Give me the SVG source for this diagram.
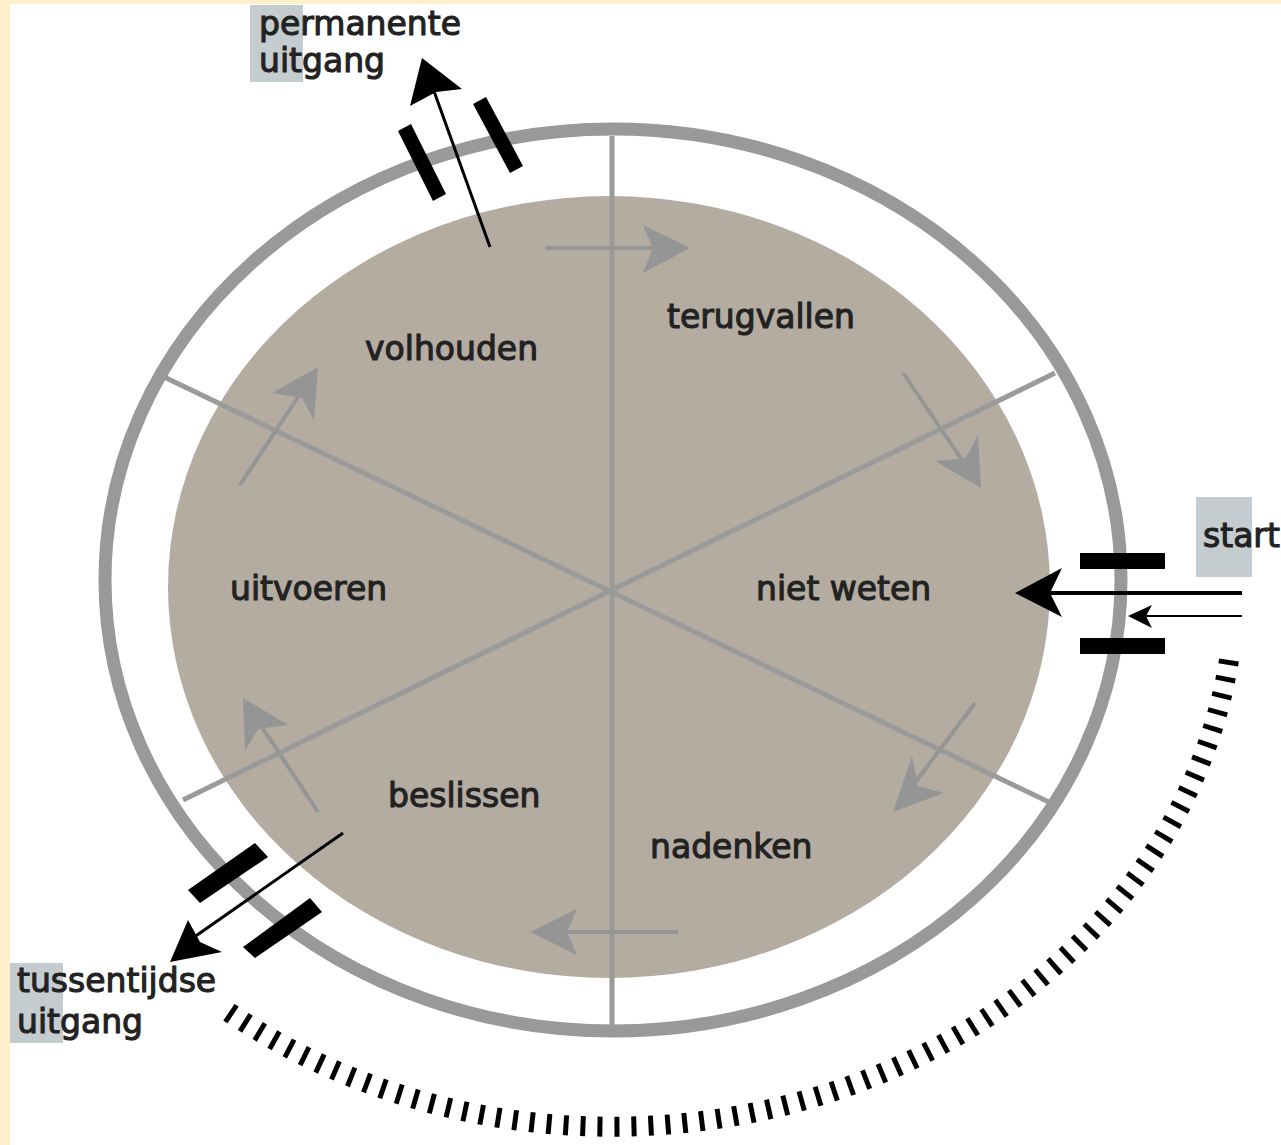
<svg xmlns="http://www.w3.org/2000/svg" width="1281" height="1145" viewBox="0 0 1281 1145">
<defs>
<style>
.lbl{font-family:"DejaVu Sans","Verdana",sans-serif;font-size:33px;fill:#222;stroke:#222;stroke-width:1.1}
.div{stroke:#9a9a9a;stroke-width:5;fill:none}
.garrow{stroke:#959595;stroke-width:4;fill:none}
.ghead{fill:#959595}
.bar{fill:#000}
.hl{fill:#c4ccd0}
</style>
</defs>
<rect x="0" y="0" width="1281" height="1145" fill="#fff0cc"/>
<rect x="10" y="4" width="1271" height="1141" fill="#ffffff"/>

<g id="cycle">
<ellipse cx="613" cy="580" rx="508" ry="451" fill="none" stroke="#999999" stroke-width="13"/>
<ellipse cx="609" cy="587" rx="441" ry="391" fill="#b4aca1"/>
</g>

<g id="connectors">
<line class="div" x1="612" y1="136" x2="612" y2="1028"/>
<line class="div" x1="160" y1="375" x2="1055" y2="805"/>
<line class="div" x1="183" y1="800" x2="1055" y2="373"/>

<line class="garrow" x1="545" y1="248" x2="655" y2="248"/>
<polygon class="ghead" points="690,248 643,225 653,248 643,273"/>

<line class="garrow" x1="903" y1="373" x2="962" y2="460"/>
<polygon class="ghead" points="981,488 978,435 966,458 935,461"/>

<line class="garrow" x1="975" y1="703" x2="914" y2="784"/>
<polygon class="ghead" points="893,812 944,793 918,786 912,756"/>

<line class="garrow" x1="678" y1="932" x2="565" y2="932"/>
<polygon class="ghead" points="530,932 577,909 567,932 577,955"/>

<line class="garrow" x1="318" y1="812" x2="262" y2="727"/>
<polygon class="ghead" points="243,698 245,751 258,729 288,725"/>

<line class="garrow" x1="240" y1="485" x2="298" y2="397"/>
<polygon class="ghead" points="318,367 314,420 302,398 272,393"/>

<line x1="490" y1="247" x2="430" y2="80" stroke="#000" stroke-width="3"/>
<polygon points="422,58 462,89 436,92 410,106" fill="#000"/>

<line x1="343" y1="833" x2="190" y2="940" stroke="#000" stroke-width="3"/>
<polygon points="170,962 188,920 200,942 222,952" fill="#000"/>

<line x1="1242" y1="593" x2="1045" y2="593" stroke="#000" stroke-width="4"/>
<polygon points="1015,593 1062,568 1050,593 1062,617" fill="#000"/>

<line x1="1242" y1="616" x2="1145" y2="616" stroke="#000" stroke-width="2"/>
<polygon points="1128,616 1152,605 1146,616 1152,628" fill="#000"/>

<path d="M1229,660 A623,542 0 0 1 220,1006" fill="none" stroke="#000" stroke-width="20" stroke-dasharray="5 12"/>
</g>

<g id="gates">
<polygon class="bar" points="398,131 411,124 446,194 433,201"/>
<polygon class="bar" points="473,104 486,97 523,166 510,173"/>
<rect class="bar" x="1080" y="553" width="85" height="16"/>
<rect class="bar" x="1080" y="638" width="85" height="16"/>
<polygon class="bar" points="188,890 255,843 268,857 200,903"/>
<polygon class="bar" points="243,947 310,898 322,912 255,958"/>
</g>

<g id="node-volhouden"><text class="lbl" x="365" y="360">volhouden</text></g>
<g id="node-terugvallen"><text class="lbl" x="667" y="328">terugvallen</text></g>
<g id="node-uitvoeren"><text class="lbl" x="230" y="600">uitvoeren</text></g>
<g id="node-nietweten"><text class="lbl" x="756" y="600">niet weten</text></g>
<g id="node-beslissen"><text class="lbl" x="388" y="807">beslissen</text></g>
<g id="node-nadenken"><text class="lbl" x="650" y="858">nadenken</text></g>

<g id="node-permanente">
<rect class="hl" x="250" y="5" width="53" height="77"/>
<text class="lbl" x="259" y="35">permanente</text>
<text class="lbl" x="259" y="72">uitgang</text>
</g>
<g id="node-start">
<rect class="hl" x="1196" y="497" width="56" height="80"/>
<text class="lbl" x="1203" y="547">start</text>
</g>
<g id="node-tussentijdse">
<rect class="hl" x="10" y="963" width="53" height="80"/>
<text class="lbl" x="17" y="992">tussentijdse</text>
<text class="lbl" x="17" y="1033">uitgang</text>
</g>
</svg>
